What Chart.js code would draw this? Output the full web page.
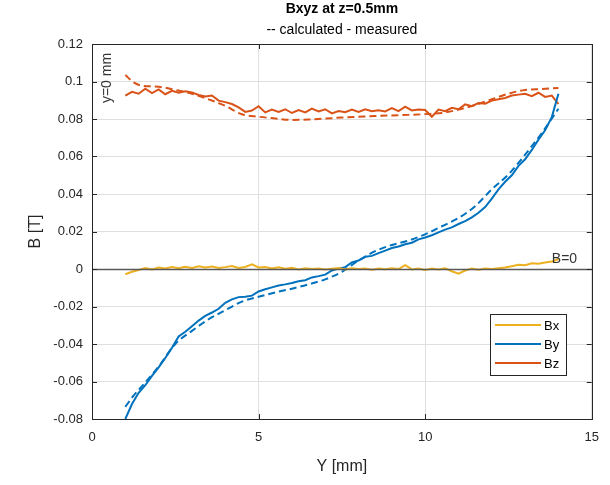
<!DOCTYPE html>
<html>
<head>
<meta charset="utf-8">
<script src="https://cdn.jsdelivr.net/npm/chart.js@4.4.1/dist/chart.umd.min.js"></script>
<style>
  html, body { margin: 0; padding: 0; background: #fff; }
  #wrap { width: 610px; height: 485px; }
</style>
</head>
<body>
<div id="wrap"><canvas id="bChart" width="610" height="485"></canvas></div>
<script>
// measured samples (solid lines)
var posMeas = [1.0,1.2,1.4,1.6,1.8,2.0,2.2,2.4,2.6,2.8,3.0,3.2,3.4,3.6,3.8,4.0,4.2,4.4,4.6,4.8,
  5.0,5.2,5.4,5.6,5.8,6.0,6.2,6.4,6.6,6.8,7.0,7.2,7.4,7.6,7.8,8.0,8.2,8.4,8.6,8.8,
  9.0,9.2,9.4,9.6,9.8,10.0,10.2,10.4,10.6,10.8,11.0,11.2,11.4,11.6,11.8,12.0,12.2,12.4,12.6,12.8,
  13.0,13.2,13.4,13.6,13.8,14.0];
var bxMeas = [-0.0028,-0.0015,-0.0005,0.0005,-0.0002,0.0008,0.0003,0.0010,0.0004,0.0012,
  0.0006,0.0015,0.0008,0.0013,0.0005,0.0010,0.0016,0.0006,0.0011,0.0025,
  0.0008,0.0010,0.0003,0.0009,0.0002,0.0006,-0.0002,0.0004,0.0000,0.0003,
  -0.0003,0.0002,0.0005,-0.0002,0.0004,0.0000,0.0003,-0.0004,0.0002,-0.0001,
  0.0004,0.0000,0.0020,-0.0002,0.0003,-0.0005,0.0002,-0.0003,0.0004,-0.0012,
  -0.0025,-0.0008,0.0002,-0.0004,0.0003,0.0000,0.0004,0.0008,0.0015,0.0022,
  0.0020,0.0030,0.0028,0.0035,0.0040,0.0052];
var byMeas = [-0.0800,-0.0720,-0.0660,-0.0620,-0.0570,-0.0525,-0.0475,-0.0420,-0.0360,-0.0335,
  -0.0305,-0.0275,-0.0250,-0.0232,-0.0212,-0.0180,-0.0162,-0.0150,-0.0148,-0.0142,
  -0.0120,-0.0108,-0.0098,-0.0088,-0.0082,-0.0075,-0.0065,-0.0060,-0.0045,-0.0038,
  -0.0030,-0.0008,0.0002,0.0010,0.0035,0.0045,0.0065,0.0070,0.0085,0.0098,
  0.0112,0.0120,0.0132,0.0140,0.0158,0.0168,0.0180,0.0195,0.0210,0.0222,
  0.0240,0.0255,0.0275,0.0300,0.0330,0.0375,0.0425,0.0465,0.0500,0.0550,
  0.0585,0.0635,0.0690,0.0740,0.0810,0.0935];
var bzMeas = [0.0925,0.0945,0.0935,0.0962,0.0938,0.0958,0.0932,0.0950,0.0940,0.0948,
  0.0942,0.0928,0.0920,0.0925,0.0898,0.0890,0.0880,0.0862,0.0838,0.0845,
  0.0868,0.0835,0.0850,0.0838,0.0852,0.0832,0.0848,0.0835,0.0855,0.0840,
  0.0852,0.0830,0.0843,0.0836,0.0850,0.0838,0.0852,0.0842,0.0846,0.0840,
  0.0858,0.0842,0.0866,0.0846,0.0850,0.0848,0.0812,0.0850,0.0842,0.0860,
  0.0852,0.0878,0.0868,0.0885,0.0882,0.0898,0.0905,0.0912,0.0925,0.0930,
  0.0935,0.0922,0.0940,0.0918,0.0925,0.0880];

// calculated (dashed lines)
var posCalc = [1,1.25,1.5,2,2.5,3,3.5,4,4.5,5,5.5,6,6.5,7,7.5,8,8.5,9,9.5,10,10.5,11,11.5,12,12.5,13,13.5,14];
var byCalc = [-0.0735,-0.0675,-0.0625,-0.0520,-0.0400,-0.0330,-0.0268,-0.0220,-0.0174,-0.0148,
  -0.0125,-0.0105,-0.0082,-0.0055,-0.0015,0.0045,0.0095,0.0128,0.0152,0.0185,
  0.0228,0.0272,0.0335,0.0425,0.0505,0.0610,0.0725,0.0855];
var bzCalc = [0.1035,0.0995,0.0978,0.0972,0.0955,0.0935,0.0905,0.0870,0.0825,0.0812,
  0.0803,0.0795,0.0797,0.0802,0.0808,0.0812,0.0816,0.0819,0.0822,0.0826,
  0.0832,0.0850,0.0875,0.0905,0.0935,0.0955,0.0960,0.0965];

var seriesNames = ["Bx", "By", "Bz"];
var seriesColors = ["#EDB120", "#0072BD", "#D95319"];
var xTicks = [0, 5, 10, 15];
var yTicks = [-0.08, -0.06, -0.04, -0.02, 0, 0.02, 0.04, 0.06, 0.08, 0.1, 0.12];

var FONT = "'Liberation Sans', Arial, sans-serif";

function pts(xs, ys) {
    return xs.map(function (x, i) { return { x: x, y: ys[i] }; });
}

// MATLAB-like frame, inward ticks, zero line, annotations and legend
var matlabPlugin = {
    id: "matlabDecor",
    afterDatasetsDraw: function (chart) {
        var ctx = chart.ctx;
        var a = chart.chartArea;
        var xs = chart.scales.x, ys = chart.scales.y;
        ctx.save();

        // B=0 reference line
        var y0 = Math.round(ys.getPixelForValue(0)) + 0.5;
        ctx.strokeStyle = "#595959";
        ctx.lineWidth = 1.5;
        ctx.beginPath();
        ctx.moveTo(a.left, y0);
        ctx.lineTo(a.right, y0);
        ctx.stroke();

        // box
        ctx.strokeStyle = "#262626";
        ctx.lineWidth = 1;
        ctx.strokeRect(Math.round(a.left) + 0.5, Math.round(a.top) + 0.5,
            Math.round(a.right - a.left), Math.round(a.bottom - a.top));

        // inward ticks on all sides
        ctx.beginPath();
        xTicks.forEach(function (v) {
            var px = Math.round(xs.getPixelForValue(v)) + 0.5;
            ctx.moveTo(px, a.bottom); ctx.lineTo(px, a.bottom - 5);
            ctx.moveTo(px, a.top); ctx.lineTo(px, a.top + 5);
        });
        yTicks.forEach(function (v) {
            var py = Math.round(ys.getPixelForValue(v)) + 0.5;
            ctx.moveTo(a.left, py); ctx.lineTo(a.left + 5, py);
            ctx.moveTo(a.right, py); ctx.lineTo(a.right - 5, py);
        });
        ctx.stroke();

        // text annotations
        ctx.fillStyle = "#333333";
        ctx.font = "14px " + FONT;
        ctx.textBaseline = "middle";
        ctx.textAlign = "left";
        ctx.fillText("B=0", xs.getPixelForValue(13.8), ys.getPixelForValue(0.0052));

        ctx.save();
        ctx.translate(xs.getPixelForValue(0.45), ys.getPixelForValue(0.0885));
        ctx.rotate(-Math.PI / 2);
        ctx.fillText("y=0 mm", 0, 0);
        ctx.restore();

        // titles
        var cx = (a.left + a.right) / 2;
        ctx.fillStyle = "#000000";
        ctx.textAlign = "center";
        ctx.font = "bold 14px " + FONT;
        ctx.fillText("Bxyz at z=0.5mm", cx, 9);
        ctx.font = "14px " + FONT;
        ctx.fillText("-- calculated - measured", cx, 30);

        // legend
        var lx = 490, ly = 314, lw = 76, lh = 61;
        ctx.fillStyle = "#ffffff";
        ctx.fillRect(lx, ly, lw, lh);
        ctx.strokeStyle = "#262626";
        ctx.lineWidth = 1;
        ctx.strokeRect(lx + 0.5, ly + 0.5, lw, lh);
        ctx.font = "13px " + FONT;
        ctx.textAlign = "left";
        seriesNames.forEach(function (name, i) {
            var ry = ly + 11 + i * 19;
            ctx.strokeStyle = seriesColors[i];
            ctx.lineWidth = 2;
            ctx.beginPath();
            ctx.moveTo(lx + 5, ry);
            ctx.lineTo(lx + 51, ry);
            ctx.stroke();
            ctx.fillStyle = "#000000";
            ctx.fillText(name, lx + 54, ry + 1);
        });

        ctx.restore();
    }
};

document.addEventListener("DOMContentLoaded", function () {
    var ctx = document.getElementById("bChart").getContext("2d");

    var calcSets = [
        { label: "By calc", data: pts(posCalc, byCalc), borderColor: seriesColors[1] },
        { label: "Bz calc", data: pts(posCalc, bzCalc), borderColor: seriesColors[2] }
    ].map(function (d) {
        d.borderWidth = 2;
        d.borderDash = [7, 4];
        d.pointRadius = 0;
        d.fill = false;
        d.cubicInterpolationMode = "monotone";
        d.order = 2;
        return d;
    });

    var measSets = [bxMeas, byMeas, bzMeas].map(function (vals, i) {
        return {
            label: seriesNames[i],
            data: pts(posMeas, vals),
            borderColor: seriesColors[i],
            borderWidth: 2,
            pointRadius: 0,
            fill: false,
            tension: 0,
            order: 1
        };
    });

    new Chart(ctx, {
        type: "line",
        data: { datasets: calcSets.concat(measSets) },
        options: {
            responsive: false,
            animation: false,
            layout: { padding: { top: 44, right: 17, bottom: 0, left: 0 } },
            plugins: {
                legend: { display: false },
                title: { display: false },
                tooltip: { enabled: false }
            },
            scales: {
                x: {
                    type: "linear",
                    min: 0,
                    max: 15,
                    afterBuildTicks: function (s) {
                        s.ticks = xTicks.map(function (v) { return { value: v }; });
                    },
                    afterFit: function (s) { s.height = 66; },
                    grid: { color: "#dfdfdf", drawTicks: false },
                    border: { display: false },
                    ticks: {
                        padding: 11,
                        color: "#262626",
                        font: { family: FONT, size: 13 }
                    },
                    title: {
                        display: true,
                        text: "Y [mm]",
                        color: "#262626",
                        font: { family: FONT, size: 16 },
                        padding: { top: 0, bottom: 9 }
                    }
                },
                y: {
                    min: -0.08,
                    max: 0.12,
                    afterBuildTicks: function (s) {
                        s.ticks = yTicks.map(function (v) { return { value: v }; });
                    },
                    afterFit: function (s) { s.width = 92; },
                    grid: { color: "#dfdfdf", drawTicks: false },
                    border: { display: false },
                    ticks: {
                        padding: 9,
                        color: "#262626",
                        font: { family: FONT, size: 13 },
                        callback: function (v) { return String(parseFloat(v.toFixed(2))); }
                    },
                    title: {
                        display: true,
                        text: "B [T]",
                        color: "#262626",
                        font: { family: FONT, size: 16 },
                        padding: { top: 26, bottom: 0 }
                    }
                }
            }
        },
        plugins: [matlabPlugin]
    });
});
</script>
</body>
</html>
